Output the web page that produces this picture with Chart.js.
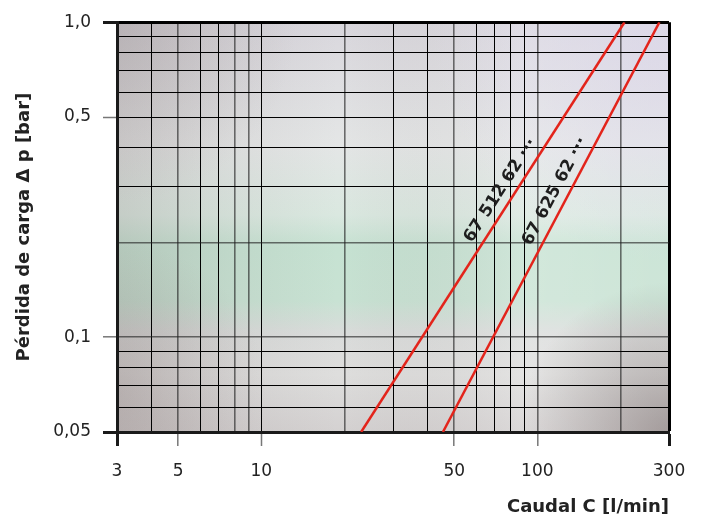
<!DOCTYPE html>
<html>
<head>
<meta charset="utf-8">
<script src="https://cdn.jsdelivr.net/npm/chart.js@4.4.1/dist/chart.umd.min.js"></script>
<style>
  html, body { margin: 0; padding: 0; background: #fff; }
  #wrap { width: 705px; height: 522px; }
</style>
</head>
<body>
<div id="wrap"><canvas id="chart" width="705" height="522"></canvas></div>
<script>
// pressure drop curves (log-log)
const seriesNames = ['67 512 62 ···', '67 625 62 ···'];
const flow512 = [23, 207];     // l/min
const drop512 = [0.05, 1.0];   // bar
const flow625 = [45.5, 277];
const drop625 = [0.05, 1.0];

const xTicks = [3, 4, 5, 6, 7, 8, 9, 10, 20, 30, 40, 50, 60, 70, 80, 90, 100, 200, 300];
const xLabels = [3, 5, 10, 50, 100, 300];
const yTicks = [0.05, 0.06, 0.07, 0.08, 0.09, 0.1, 0.2, 0.3, 0.4, 0.5, 0.6, 0.7, 0.8, 0.9, 1.0];
const yLabels = [0.05, 0.1, 0.5, 1.0];

// lines that come out grey-ish on the scan
const softX = [5, 8, 9, 20, 50, 100, 200];
const softY = [0.1, 0.2];

const toPoints = (xs, ys) => xs.map((x, i) => ({ x: x, y: ys[i] }));

function fillGrad(ctx, g, stops, box) {
  stops.forEach(s => g.addColorStop(s[0], s[1]));
  ctx.fillStyle = g;
  ctx.fillRect(box.left, box.top, box.right - box.left, box.bottom - box.top);
}

// photo-like backdrop of the original sheet
const backdrop = {
  id: 'backdrop',
  beforeDraw(chart) {
    const { ctx, chartArea: a } = chart;
    const { left, top, right, bottom } = a;
    ctx.save();
    fillGrad(ctx, ctx.createLinearGradient(0, top, 0, bottom), [
      [0, '#d9d7dd'], [0.3, '#e4e6e6'], [0.47, '#dae8e0'], [0.55, '#c6e2d2'],
      [0.68, '#c8e2d3'], [0.76, '#dadcdb'], [0.86, '#dededd'], [1, '#d4d1d1']
    ], a);
    // darker left edge
    fillGrad(ctx, ctx.createLinearGradient(left, 0, right, 0), [
      [0, 'rgba(110,95,95,0.2)'], [0.2, 'rgba(110,95,95,0.08)'], [0.4, 'rgba(110,95,95,0)'],
      [0.75, 'rgba(255,255,255,0.2)'], [1, 'rgba(255,255,255,0.1)']
    ], a);
    // pinkish lower-left corner
    let g = ctx.createRadialGradient(left, bottom - 40, 5, left, bottom - 40, 150);
    fillGrad(ctx, g, [[0, 'rgba(125,105,105,0.2)'], [1, 'rgba(125,105,105,0)']], a);
    // dark lower-right corner
    g = ctx.createRadialGradient(right, bottom, 5, right, bottom, 150);
    fillGrad(ctx, g, [[0, 'rgba(95,80,80,0.42)'], [1, 'rgba(95,80,80,0)']], a);
    // lavender top-right
    g = ctx.createRadialGradient(right, top, 5, right, top, 240);
    fillGrad(ctx, g, [[0, 'rgba(220,215,235,0.7)'], [1, 'rgba(220,215,235,0)']], a);
    // greyer top-left
    g = ctx.createRadialGradient(left, top, 5, left, top, 180);
    fillGrad(ctx, g, [[0, 'rgba(150,140,140,0.25)'], [1, 'rgba(150,140,140,0)']], a);
    ctx.restore();
  }
};

// product codes written along each curve
const curveLabels = {
  id: 'curveLabels',
  afterDatasetsDraw(chart) {
    const { ctx } = chart;
    chart.data.datasets.forEach((ds, i) => {
      const pts = chart.getDatasetMeta(i).data;
      const a = pts[0], b = pts[pts.length - 1];
      const ang = Math.atan2(b.y - a.y, b.x - a.x);
      const t = 0.572;
      const px = a.x + t * (b.x - a.x);
      const py = a.y + t * (b.y - a.y);
      const off = 13.5;
      ctx.save();
      ctx.translate(px + off * Math.sin(ang), py - off * Math.cos(ang));
      ctx.rotate(ang);
      ctx.font = 'bold 17px "DejaVu Sans"';
      ctx.fillStyle = '#1e1e1e';
      ctx.textAlign = 'center';
      ctx.textBaseline = 'middle';
      ctx.fillText(ds.label, 0, 0);
      ctx.restore();
    });
  }
};

const tickFont = { family: 'DejaVu Sans', size: 17 };
const titleFont = { family: 'DejaVu Sans', size: 18, weight: 'bold' };

new Chart(document.getElementById('chart').getContext('2d'), {
  type: 'line',
  data: {
    datasets: [
      {
        label: seriesNames[0],
        data: toPoints(flow512, drop512),
        borderColor: '#e3241b',
        borderWidth: 2.5,
        pointRadius: 0,
        tension: 0
      },
      {
        label: seriesNames[1],
        data: toPoints(flow625, drop625),
        borderColor: '#e3241b',
        borderWidth: 2.5,
        pointRadius: 0,
        tension: 0
      }
    ]
  },
  options: {
    responsive: false,
    animation: false,
    layout: { padding: { top: 18, right: 36, left: 0, bottom: 0 } },
    plugins: {
      legend: { display: false },
      tooltip: { enabled: false }
    },
    scales: {
      x: {
        type: 'logarithmic',
        min: 3,
        max: 300,
        afterBuildTicks: s => { s.ticks = xTicks.map(v => ({ value: v })); },
        afterFit: s => { s.height = 90; },
        ticks: {
          autoSkip: false,
          maxRotation: 0,
          padding: 15,
          color: '#222',
          font: tickFont,
          callback: v => xLabels.includes(v) ? String(v) : ''
        },
        grid: {
          color: c => softX.includes(c.tick.value) ? 'rgba(30,30,30,0.62)' : '#000',
          lineWidth: c => c.tick.value === 300 ? 3 : (softX.includes(c.tick.value) ? 1.6 : 1),
          drawTicks: true,
          tickLength: 14,
          tickColor: c => {
            const v = c.tick.value;
            if (v === 3 || v === 300) return '#1a1a1a';
            return xLabels.includes(v) ? '#777' : 'rgba(0,0,0,0)';
          },
          tickWidth: c => (c.tick.value === 3 || c.tick.value === 300) ? 3 : 1.5
        },
        border: { display: true, color: '#1a1a1a', width: 3 },
        title: {
          display: true,
          text: 'Caudal C [l/min]',
          align: 'end',
          color: '#222',
          font: titleFont,
          padding: { top: 0, bottom: 4 }
        }
      },
      y: {
        type: 'logarithmic',
        min: 0.05,
        max: 1,
        afterBuildTicks: s => { s.ticks = yTicks.map(v => ({ value: v })); },
        afterFit: s => { s.width = 117; },
        ticks: {
          autoSkip: false,
          padding: 12,
          color: '#222',
          font: tickFont,
          callback: v => yLabels.includes(v) ? (v === 1 ? '1,0' : String(v).replace('.', ',')) : ''
        },
        grid: {
          color: c => softY.includes(c.tick.value) ? 'rgba(30,30,30,0.62)' : '#000',
          lineWidth: c => c.tick.value === 1 ? 3 : (softY.includes(c.tick.value) ? 1.6 : 1),
          drawTicks: true,
          tickLength: 14,
          tickColor: c => {
            const v = c.tick.value;
            if (v === 0.05 || v === 1) return '#1a1a1a';
            return yLabels.includes(v) ? '#777' : 'rgba(0,0,0,0)';
          },
          tickWidth: c => (c.tick.value === 0.05 || c.tick.value === 1) ? 3 : 1.5
        },
        border: { display: true, color: '#1a1a1a', width: 3 },
        title: {
          display: true,
          text: 'Pérdida de carga Δ p [bar]',
          color: '#222',
          font: titleFont,
          padding: { top: 14, bottom: 0 }
        }
      }
    }
  },
  plugins: [backdrop, curveLabels]
});
</script>
</body>
</html>
